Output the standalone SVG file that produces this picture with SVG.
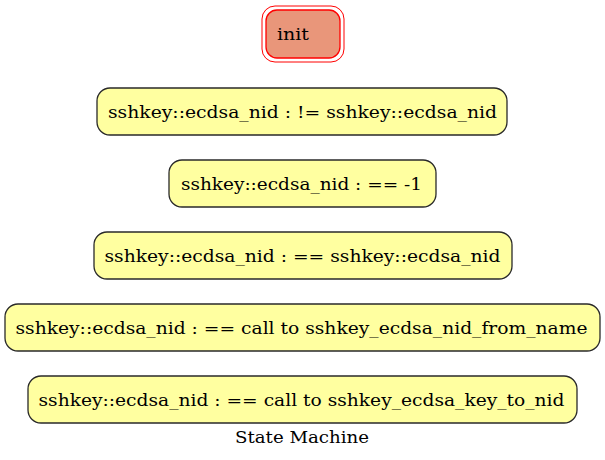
<svg xmlns="http://www.w3.org/2000/svg" width="605" height="460" viewBox="0 0 605 460">
<style>
.st rect{fill:#ffffa0;stroke:#2a2a2a;stroke-width:1.3}
text{font-family:"DejaVu Serif",serif;font-size:16.5px;fill:#000}
.c{text-anchor:middle}
</style>
<rect width="605" height="460" fill="#fff"/>
<g id="init">
<rect x="262" y="6" width="82" height="56" rx="13" fill="none" stroke="#ff0000" stroke-width="1"/>
<rect x="266" y="10" width="74" height="48" rx="11" fill="#e9967a" stroke="#ff0000" stroke-width="1.3"/>
<text x="277" y="40" textLength="32" lengthAdjust="spacingAndGlyphs">init</text>
</g>
<g id="s1" class="st">
<rect x="97" y="88" width="410" height="47" rx="13"/>
<text class="c" x="302.5" y="118" textLength="389" lengthAdjust="spacingAndGlyphs">sshkey::ecdsa_nid : != sshkey::ecdsa_nid</text>
</g>
<g id="s2" class="st">
<rect x="169" y="160" width="267" height="47" rx="13"/>
<text class="c" x="301.5" y="190" textLength="241" lengthAdjust="spacingAndGlyphs">sshkey::ecdsa_nid : == -1</text>
</g>
<g id="s3" class="st">
<rect x="94" y="232" width="418" height="47" rx="13"/>
<text class="c" x="302.5" y="262" textLength="396" lengthAdjust="spacingAndGlyphs">sshkey::ecdsa_nid : == sshkey::ecdsa_nid</text>
</g>
<g id="s4" class="st">
<rect x="5" y="304" width="595" height="47" rx="13"/>
<text class="c" x="301.5" y="334" textLength="572" lengthAdjust="spacingAndGlyphs">sshkey::ecdsa_nid : == call to sshkey_ecdsa_nid_from_name</text>
</g>
<g id="s5" class="st">
<rect x="28" y="376" width="549" height="47" rx="13"/>
<text class="c" x="301.5" y="406" textLength="526" lengthAdjust="spacingAndGlyphs">sshkey::ecdsa_nid : == call to sshkey_ecdsa_key_to_nid</text>
</g>
<g id="connectors"></g>
<text class="c" x="302" y="443" textLength="134" lengthAdjust="spacingAndGlyphs">State Machine</text>
</svg>
